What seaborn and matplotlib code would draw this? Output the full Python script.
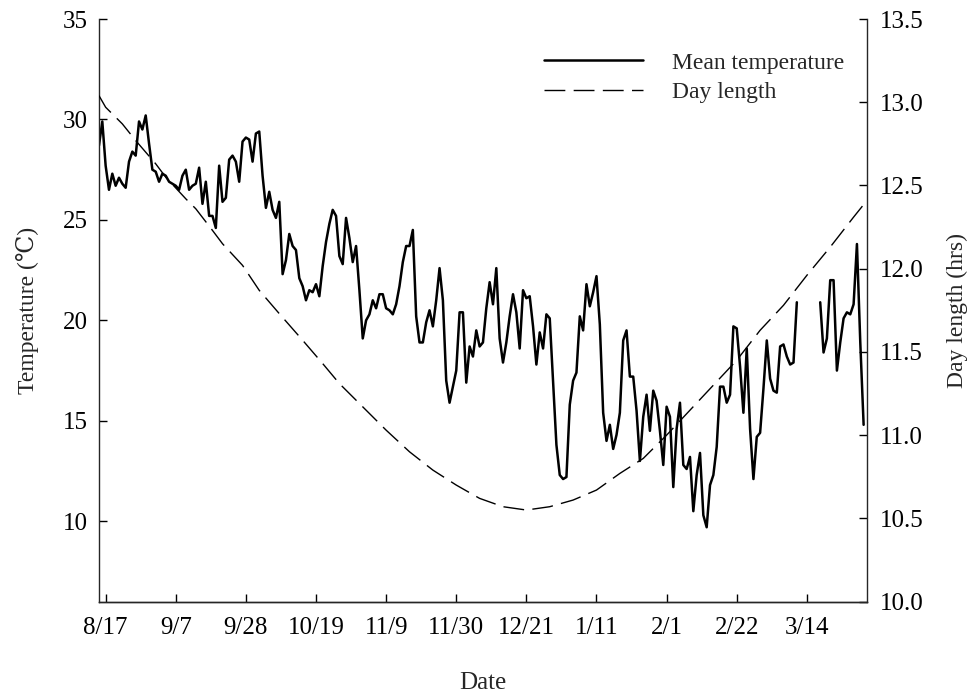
import numpy as np
import pandas as pd
import matplotlib
matplotlib.use("Agg")
import matplotlib.pyplot as plt
import seaborn as sns
from matplotlib.lines import Line2D

# Daily mean temperature (deg C), one value per day starting 2011-08-15
start = pd.Timestamp("2011-08-15")
mean_temp = [
    28.7, 29.9, 27.7, 26.5, 27.3, 26.7, 27.1, 26.8, 26.6, 27.9,
    28.4, 28.2, 29.9, 29.5, 30.2, 28.8, 27.5, 27.4, 26.9, 27.3,
    27.2, 26.9, 26.8, 26.7, 26.5, 27.2, 27.5, 26.5, 26.7, 26.8,
    27.6, 25.8, 26.9, 25.2, 25.2, 24.6, 27.7, 25.9, 26.1, 28.0,
    28.2, 27.9, 26.9, 28.9, 29.1, 29.0, 27.9, 29.3, 29.4, 27.2,
    25.6, 26.4, 25.5, 25.1, 25.9, 22.3, 23.0, 24.3, 23.7, 23.5,
    22.1, 21.7, 21.0, 21.5, 21.4, 21.8, 21.2, 22.7, 23.9, 24.8,
    25.5, 25.2, 23.2, 22.8, 25.1, 24.1, 22.9, 23.7, 21.5, 19.1,
    20.0, 20.3, 21.0, 20.6, 21.3, 21.3, 20.6, 20.5, 20.3, 20.8,
    21.7, 22.9, 23.7, 23.7, 24.5, 20.2, 18.9, 18.9, 19.9, 20.5,
    19.7, 21.0, 22.6, 21.0, 17.0, 15.9, 16.7, 17.5, 20.4, 20.4,
    16.9, 18.7, 18.2, 19.5, 18.7, 18.9, 20.6, 21.9, 20.8, 22.6,
    19.1, 17.9, 18.9, 20.2, 21.3, 20.4, 18.6, 21.5, 21.1, 21.2,
    19.7, 17.8, 19.4, 18.6, 20.3, 20.1, 17.0, 13.8, 12.3, 12.1,
    12.2, 15.8, 17.0, 17.4, 20.2, 19.5, 21.8, 20.7, 21.4, 22.2,
    19.8, 15.4, 14.0, 14.8, 13.6, 14.3, 15.4, 19.0, 19.5, 17.2,
    17.2, 15.5, 13.0, 15.2, 16.3, 14.5, 16.5, 16.0, 14.5, 12.8,
    15.7, 15.2, 11.7, 14.6, 15.9, 12.8, 12.6, 13.2, 10.5, 12.3,
    13.4, 10.3, 9.7, 11.8, 12.3, 13.7, 16.7, 16.7, 15.9, 16.3,
    19.7, 19.6, 17.7, 15.4, 18.6, 14.6, 12.1, 14.2, 14.4, 16.6,
    19.0, 17.1, 16.5, 16.4, 18.7, 18.8, 18.2, 17.8, 17.9, 20.9,
    np.nan, np.nan, np.nan, np.nan, np.nan, np.nan, 20.9, 18.4, 19.1, 22.0,
    22.0, 17.5, 18.9, 20.1, 20.4, 20.3, 20.8, 23.8, 18.9, 14.8,
]

# Day length (hours), days counted from 2011-08-15
dl_days = [0, 2, 7, 11, 17, 20, 26, 29, 34, 37, 43, 48, 54, 61, 67, 72, 79,
           86, 93, 100, 107, 114, 121, 128, 135, 142, 149, 156, 163, 170,
           177, 184, 191, 198, 205, 212, 219, 226, 230]
dl_hours = [13.04, 12.97, 12.87, 12.77, 12.63, 12.55, 12.42, 12.36, 12.23,
            12.15, 12.02, 11.87, 11.73, 11.57, 11.43, 11.31, 11.17, 11.03,
            10.90, 10.79, 10.70, 10.62, 10.57, 10.55, 10.57, 10.61, 10.67,
            10.77, 10.86, 11.00, 11.15, 11.30, 11.45, 11.63, 11.78, 11.96,
            12.13, 12.31, 12.41]

tick_dates = pd.date_range("2011-08-17", periods=11, freq="21D")
tick_labels = ["8/17", "9/7", "9/28", "10/19", "11/9", "11/30",
               "12/21", "1/11", "2/1", "2/22", "3/14"]
temp_ticks = [10, 15, 20, 25, 30, 35]
dl_ticks = [10.0, 10.5, 11.0, 11.5, 12.0, 12.5, 13.0, 13.5]

temp_df = pd.DataFrame({
    "date": pd.date_range(start, periods=len(mean_temp), freq="D"),
    "temp": mean_temp,
})
# separate runs around the missing days so the line breaks there
temp_df["run"] = temp_df["temp"].isna().cumsum()
temp_df = temp_df.dropna()

dl_df = pd.DataFrame({
    "date": [start + pd.Timedelta(days=d) for d in dl_days],
    "hours": dl_hours,
})

sns.set_theme(style="ticks")
plt.rcParams["font.family"] = ["Liberation Serif", "DejaVu Serif"]
plt.rcParams["axes.linewidth"] = 1.0

fig = plt.figure(figsize=(9.74, 6.97), dpi=100)
ax = fig.add_axes([0.1016, 0.1369, 0.7885, 0.8358])
ax2 = ax.twinx()

sns.lineplot(data=temp_df, x="date", y="temp", units="run", estimator=None,
             color="black", linewidth=1.8, ax=ax)
sns.lineplot(data=dl_df, x="date", y="hours", color="black", linewidth=1.0,
             linestyle=(0, (15, 6)), ax=ax2)

ax.set_xlim(start, start + pd.Timedelta(days=230))
ax.set_ylim(6, 35)
ax2.set_ylim(10, 13.5)

ax.set_xticks(tick_dates)
ax.set_xticklabels(tick_labels)
ax.set_yticks(temp_ticks)
ax.set_yticklabels([str(t) for t in temp_ticks])
ax2.set_yticks(dl_ticks)
ax2.set_yticklabels([f"{t:.1f}" for t in dl_ticks])

for a in (ax, ax2):
    a.spines["top"].set_visible(False)
    a.tick_params(direction="in", length=6, width=1.0, labelsize=18,
                  colors="black")
    a.minorticks_off()
ax.spines["right"].set_visible(False)
ax2.spines["left"].set_visible(False)
ax2.spines["right"].set_visible(True)
ax.tick_params(axis="y", pad=8)
ax.tick_params(axis="x", pad=11)
ax2.tick_params(axis="y", pad=9)

ax.set_xlabel("Date", fontsize=18, labelpad=24)
ax.set_ylabel("Temperature (\u2103)", fontsize=17, labelpad=17)
ax2.set_ylabel("Day length (hrs)", fontsize=17, labelpad=17)

handles = [Line2D([], [], color="black", linewidth=1.8),
           Line2D([], [], color="black", linewidth=1.0, linestyle=(0, (15, 6)))]
ax2.legend(handles, ["Mean temperature", "Day length"], loc="upper right",
           bbox_to_anchor=(0.970, 0.943), frameon=False, fontsize=17,
           handlelength=4.2, handletextpad=1.2, labelspacing=0.32,
           borderaxespad=0, borderpad=0)

fig.savefig("out.png", dpi=100)
